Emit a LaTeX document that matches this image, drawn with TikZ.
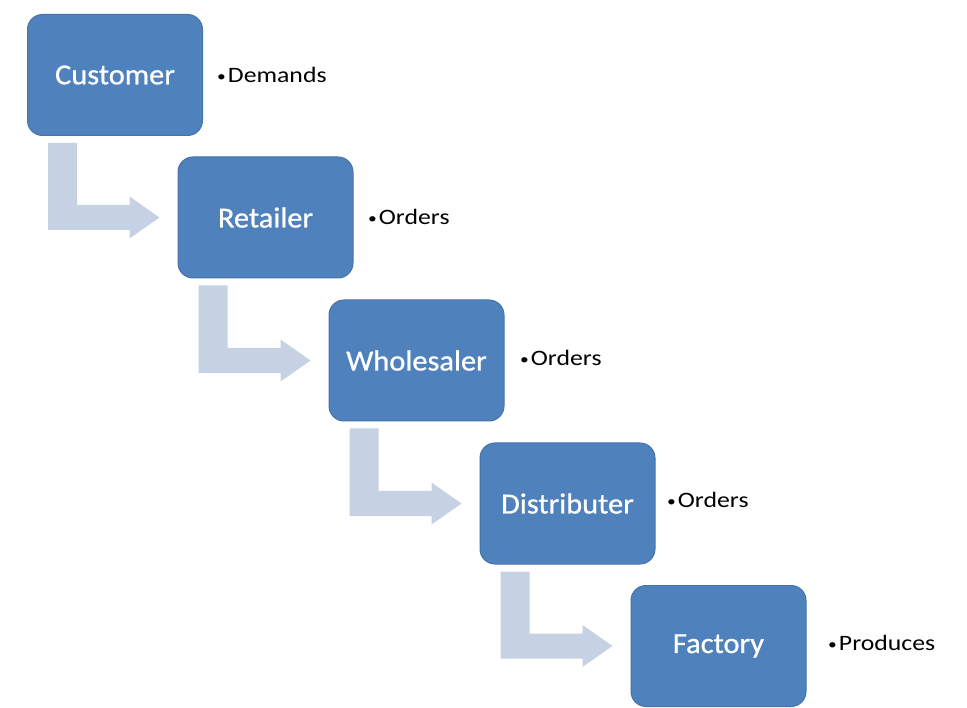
\documentclass[tikz,border=0pt]{standalone}
\usepackage{fontspec}
\setmainfont{Carlito}
\newfontfamily\stagefont[FakeStretch=1.05,FakeBold=0.8]{Carlito}
\newfontfamily\notefont[FakeStretch=1.17]{Carlito}
\usetikzlibrary{calc}
\definecolor{stageblue}{RGB}{79,129,189}
\definecolor{stageedge}{RGB}{70,115,170}
\definecolor{flowgrey}{RGB}{198,209,228}
\tikzset{
  stagebox/.style={fill=stageblue, draw=stageedge, line width=1pt,
    rounded corners=15pt, minimum width=175pt, minimum height=121pt,
    inner sep=0pt, text=white, font=\stagefont\fontsize{29}{34}\selectfont},
  notelabel/.style={anchor=west, inner sep=0pt, text=black,
    font=\notefont\fontsize{22}{26}\selectfont},
  flowarrow/.style={fill=flowgrey}
}
\newcommand{\notebullet}{\raisebox{1.5pt}{\fontsize{15}{15}\selectfont\textbullet}\kern2pt}
\begin{document}
\begin{tikzpicture}[x=1pt,y=-1pt]
\useasboundingbox (0,0) rectangle (967,708);
\fill[white] (0,0) rectangle (967,708);

% supply chain stages
\node[stagebox] (c) at (115,75)    {Customer};
\node[stagebox] (r) at (265.5,217.5) {Retailer};
\node[stagebox] (w) at (416.5,360.5) {Wholesaler};
\node[stagebox] (d) at (567.5,503.5) {Distributer};
\node[stagebox] (f) at (718.5,646) {Factory};

% side notes
\node[notelabel] (cn) at (217,75)  {\notebullet Demands};
\node[notelabel] (rn) at (368,217) {\notebullet Orders};
\node[notelabel] (wn) at (520,358) {\notebullet Orders};
\node[notelabel] (dn) at (667,500) {\notebullet Orders};
\node[notelabel] (fn) at (828,643) {\notebullet Produces};

% bent arrows from each stage down to the next
\foreach \a/\b in {c/r, r/w, w/d, d/f} {
  \coordinate (\a-s) at ($(\a.south west)+(21,7)$);
  \coordinate (\a-h) at ($(\b.west)+(-48,0)$);
  \coordinate (\a-t) at ($(\b.west)+(-18,0)$);
  \fill[flowarrow] (\a-s) -- ++(29,0) |- ($(\a-h)+(0,-12.5)$)
    -- ++(0,-8.5) -- (\a-t) -- ($(\a-h)+(0,21)$) -- ++(0,-8.5)
    -- ($(\a-s |- \a-h)+(0,12.5)$) -- cycle;
}
\end{tikzpicture}
\end{document}
